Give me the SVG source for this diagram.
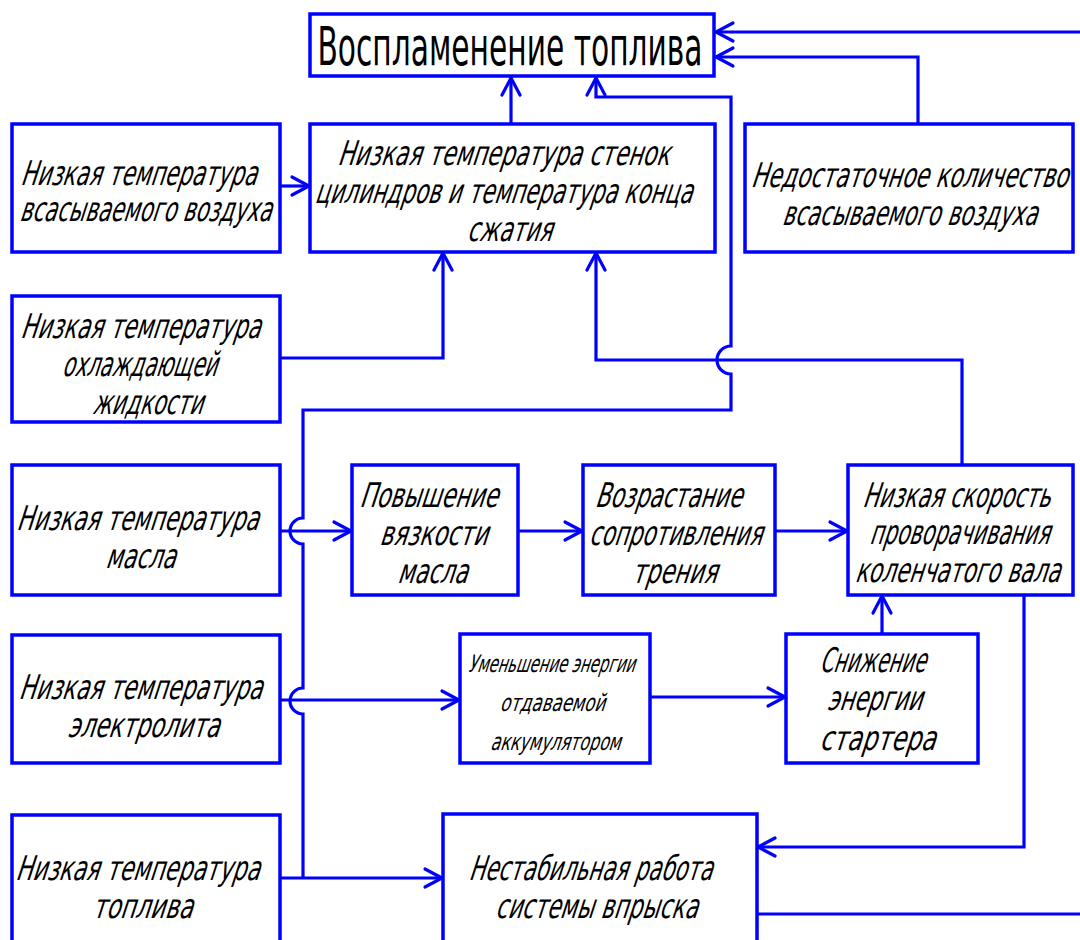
<svg xmlns="http://www.w3.org/2000/svg" width="1080" height="940" viewBox="0 0 1080 940">
<defs>
<style>
.box{fill:#fff;stroke:#0000ff;stroke-width:3.5}
.ln{fill:none;stroke:#0000ff;stroke-width:3.2;stroke-linejoin:miter}
.ar{marker-end:url(#arr)}
text{font-family:"DejaVu Sans Condensed","DejaVu Sans","Liberation Sans",sans-serif;fill:#000;text-anchor:middle}
.t{font-size:34px}
.s{font-size:24px}
.h{font-size:54px}
</style>
<marker id="arr" markerUnits="userSpaceOnUse" markerWidth="22" markerHeight="24" refX="18" refY="10" orient="auto" overflow="visible">
<path d="M1,1 L18,10 L1,19" fill="none" stroke="#0000ff" stroke-width="3.2" stroke-linecap="round" stroke-linejoin="miter"/>
</marker>
</defs>
<rect width="1080" height="940" fill="#fff"/>

<g id="connectors">
<path class="ln ar" d="M1080,32 H716"/>
<path class="ln ar" d="M918,124 V57 H716"/>
<path class="ln ar" d="M511,124 V78"/>
<path class="ln ar" d="M303,878 V714 A13,13 0 0,1 303,688 V544 A13,13 0 0,1 303,518 V410 H731 V374 A14,14 0 0,1 731,346 V97 H596 V78"/>
<path class="ln ar" d="M280,186 H309"/>
<path class="ln ar" d="M280,358 H443 V253"/>
<path class="ln ar" d="M962,465 V360 H596 V253"/>
<path class="ln ar" d="M280,531 H351"/>
<path class="ln ar" d="M518,531 H582"/>
<path class="ln ar" d="M775,531 H847"/>
<path class="ln ar" d="M280,700 H459"/>
<path class="ln ar" d="M650,697 H785"/>
<path class="ln ar" d="M882,634 V596"/>
<path class="ln ar" d="M1024,595 V847 H758"/>
<path class="ln ar" d="M280,878 H442"/>
<path class="ln" d="M757,914 H1080"/>
</g>

<g id="n-vosplamenenie">
<rect class="box" x="310" y="14" width="404" height="62"/>
<text class="h" transform="translate(510,65) scale(0.7,1)" textLength="550" lengthAdjust="spacingAndGlyphs">Воспламенение топлива</text>
</g>

<g id="n-vozduh-temp">
<rect class="box" x="12" y="124" width="268" height="128"/>
<text class="t" transform="translate(138,185) skewX(-18) scale(0.72,1)" textLength="328" lengthAdjust="spacingAndGlyphs">Низкая температура</text>
<text class="t" transform="translate(145,221) skewX(-18) scale(0.72,1)" textLength="350" lengthAdjust="spacingAndGlyphs">всасываемого воздуха</text>
</g>

<g id="n-stenki">
<rect class="box" x="310" y="124" width="405" height="128"/>
<text class="t" transform="translate(503,165) skewX(-18) scale(0.72,1)" textLength="461" lengthAdjust="spacingAndGlyphs">Низкая температура стенок</text>
<text class="t" transform="translate(503,203) skewX(-18) scale(0.72,1)" textLength="524" lengthAdjust="spacingAndGlyphs">цилиндров и температура конца</text>
<text class="t" transform="translate(509,241) skewX(-18) scale(0.72,1)" textLength="118" lengthAdjust="spacingAndGlyphs">сжатия</text>
</g>

<g id="n-nedostatok">
<rect class="box" x="745" y="124" width="328" height="128"/>
<text class="t" transform="translate(909,187) skewX(-18) scale(0.72,1)" textLength="440" lengthAdjust="spacingAndGlyphs">Недостаточное количество</text>
<text class="t" transform="translate(909,225) skewX(-18) scale(0.72,1)" textLength="354" lengthAdjust="spacingAndGlyphs">всасываемого воздуха</text>
</g>

<g id="n-ohlazhd">
<rect class="box" x="12" y="296" width="268" height="126"/>
<text class="t" transform="translate(140,338) skewX(-18) scale(0.72,1)" textLength="333" lengthAdjust="spacingAndGlyphs">Низкая температура</text>
<text class="t" transform="translate(139,376) skewX(-18) scale(0.72,1)" textLength="215" lengthAdjust="spacingAndGlyphs">охлаждающей</text>
<text class="t" transform="translate(147,414) skewX(-18) scale(0.72,1)" textLength="153" lengthAdjust="spacingAndGlyphs">жидкости</text>
</g>

<g id="n-maslo-temp">
<rect class="box" x="12" y="465" width="268" height="130"/>
<text class="t" transform="translate(137,530) skewX(-18) scale(0.72,1)" textLength="336" lengthAdjust="spacingAndGlyphs">Низкая температура</text>
<text class="t" transform="translate(140,568) skewX(-18) scale(0.72,1)" textLength="97" lengthAdjust="spacingAndGlyphs">масла</text>
</g>

<g id="n-vyazkost">
<rect class="box" x="352" y="465" width="166" height="130"/>
<text class="t" transform="translate(428,507) skewX(-18) scale(0.72,1)" textLength="192" lengthAdjust="spacingAndGlyphs">Повышение</text>
<text class="t" transform="translate(433,545) skewX(-18) scale(0.72,1)" textLength="150" lengthAdjust="spacingAndGlyphs">вязкости</text>
<text class="t" transform="translate(432,583) skewX(-18) scale(0.72,1)" textLength="97" lengthAdjust="spacingAndGlyphs">масла</text>
</g>

<g id="n-trenie">
<rect class="box" x="583" y="465" width="192" height="130"/>
<text class="t" transform="translate(668,507) skewX(-18) scale(0.72,1)" textLength="204" lengthAdjust="spacingAndGlyphs">Возрастание</text>
<text class="t" transform="translate(675,545) skewX(-18) scale(0.72,1)" textLength="240" lengthAdjust="spacingAndGlyphs">сопротивления</text>
<text class="t" transform="translate(674,583) skewX(-18) scale(0.72,1)" textLength="118" lengthAdjust="spacingAndGlyphs">трения</text>
</g>

<g id="n-skorost">
<rect class="box" x="848" y="465" width="225" height="130"/>
<text class="t" transform="translate(956,507) skewX(-18) scale(0.72,1)" textLength="261" lengthAdjust="spacingAndGlyphs">Низкая скорость</text>
<text class="t" transform="translate(959,544) skewX(-18) scale(0.72,1)" textLength="250" lengthAdjust="spacingAndGlyphs">проворачивания</text>
<text class="t" transform="translate(957,582) skewX(-18) scale(0.72,1)" textLength="285" lengthAdjust="spacingAndGlyphs">коленчатого вала</text>
</g>

<g id="n-elektrolit">
<rect class="box" x="12" y="635" width="268" height="128"/>
<text class="t" transform="translate(140,699) skewX(-18) scale(0.72,1)" textLength="338" lengthAdjust="spacingAndGlyphs">Низкая температура</text>
<text class="t" transform="translate(143,737) skewX(-18) scale(0.72,1)" textLength="211" lengthAdjust="spacingAndGlyphs">электролита</text>
</g>

<g id="n-akkumulyator">
<rect class="box" x="460" y="634" width="190" height="129"/>
<text class="s" transform="translate(551,672) skewX(-18) scale(0.6,1)" textLength="278" lengthAdjust="spacingAndGlyphs">Уменьшение энергии</text>
<text class="s" transform="translate(552,711) skewX(-18) scale(0.6,1)" textLength="175" lengthAdjust="spacingAndGlyphs">отдаваемой</text>
<text class="s" transform="translate(555,750) skewX(-18) scale(0.6,1)" textLength="217" lengthAdjust="spacingAndGlyphs">аккумулятором</text>
</g>

<g id="n-starter">
<rect class="box" x="786" y="634" width="192" height="129"/>
<text class="t" transform="translate(872,672) skewX(-18) scale(0.72,1)" textLength="147" lengthAdjust="spacingAndGlyphs">Снижение</text>
<text class="t" transform="translate(874,710) skewX(-18) scale(0.72,1)" textLength="132" lengthAdjust="spacingAndGlyphs">энергии</text>
<text class="t" transform="translate(877,750) skewX(-18) scale(0.72,1)" textLength="161" lengthAdjust="spacingAndGlyphs">стартера</text>
</g>

<g id="n-toplivo-temp">
<rect class="box" x="12" y="815" width="268" height="140"/>
<text class="t" transform="translate(137,880) skewX(-18) scale(0.72,1)" textLength="339" lengthAdjust="spacingAndGlyphs">Низкая температура</text>
<text class="t" transform="translate(142,918) skewX(-18) scale(0.72,1)" textLength="139" lengthAdjust="spacingAndGlyphs">топлива</text>
</g>

<g id="n-vprysk">
<rect class="box" x="443" y="814" width="314" height="140"/>
<text class="t" transform="translate(590,880) skewX(-18) scale(0.72,1)" textLength="338" lengthAdjust="spacingAndGlyphs">Нестабильная работа</text>
<text class="t" transform="translate(596,918) skewX(-18) scale(0.72,1)" textLength="281" lengthAdjust="spacingAndGlyphs">системы впрыска</text>
</g>
</svg>
